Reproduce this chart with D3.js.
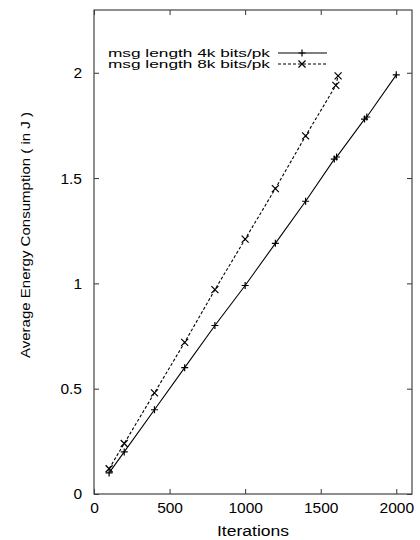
<!DOCTYPE html>
<html>
<head>
<meta charset="utf-8">
<script src="https://cdn.jsdelivr.net/npm/d3@7"></script>
<style>
  body { margin: 0; background: #fff; }
  text { font-family: "Liberation Sans", Arial, sans-serif; fill: #000; }
</style>
</head>
<body>
<svg id="chart" width="420" height="540"></svg>
<script>
// data
let iter4k = [100, 200, 400, 600, 800, 1000, 1200, 1400, 1590, 1605, 1790, 1805, 2000]
let energy4k = [0.10, 0.20, 0.40, 0.60, 0.80, 0.99, 1.19, 1.39, 1.59, 1.60, 1.78, 1.79, 1.99]
let iter8k = [100, 200, 400, 600, 800, 1000, 1200, 1400, 1600, 1615]
let energy8k = [0.12, 0.24, 0.48, 0.72, 0.97, 1.21, 1.45, 1.70, 1.94, 1.985]
let xTicks = [0, 500, 1000, 1500, 2000]
let yTicks = [0, 0.5, 1, 1.5, 2]
let legendLabels = ['msg length 4k bits/pk', 'msg length 8k bits/pk']

let padLeft = 94, padRight = 412, padTop = 10, padBottom = 494
let svg = d3.select('#chart')

let x = d3.scaleLinear().domain([0, 2104]).range([padLeft, padRight])
let y = d3.scaleLinear().domain([0, 2.298]).range([padBottom, padTop])

let fmt = d => d === 0 ? '0' : String(d)

// axes with inward ticks, mirrored on the opposite side
svg.append('g').attr('transform', 'translate(0,' + padBottom + ')')
  .call(d3.axisBottom(x).tickValues(xTicks).tickSizeInner(-5).tickSizeOuter(0).tickPadding(8).tickFormat(fmt))
svg.append('g').attr('transform', 'translate(0,' + padTop + ')')
  .call(d3.axisTop(x).tickValues(xTicks).tickSizeInner(-5).tickSizeOuter(0).tickFormat(''))
svg.append('g').attr('transform', 'translate(' + padLeft + ',0)')
  .call(d3.axisLeft(y).tickValues(yTicks).tickSizeInner(-5).tickSizeOuter(0).tickPadding(12).tickFormat(fmt))
svg.append('g').attr('transform', 'translate(' + padRight + ',0)')
  .call(d3.axisRight(y).tickValues(yTicks).tickSizeInner(-5).tickSizeOuter(0).tickFormat(''))

svg.selectAll('.domain').remove()
svg.selectAll('.tick line').attr('stroke', '#333')
svg.selectAll('.tick text').style('font-size', '15.5px').attr('fill', '#000')

svg.append('rect')
  .attr('x', padLeft).attr('y', padTop)
  .attr('width', padRight - padLeft).attr('height', padBottom - padTop)
  .attr('fill', 'none').attr('stroke', '#444').attr('stroke-width', 1.2)

svg.append('text').attr('x', 253).attr('y', 536)
  .attr('text-anchor', 'middle').style('font-size', '14px')
  .attr('textLength', 72).attr('lengthAdjust', 'spacingAndGlyphs').text('Iterations')
svg.append('text').attr('transform', 'translate(30,235) rotate(-90)')
  .attr('text-anchor', 'middle').style('font-size', '13.5px')
  .attr('textLength', 246).attr('lengthAdjust', 'spacingAndGlyphs').text('Average Energy Consumption ( in J )')

let s4 = iter4k.map((d, i) => [d, energy4k[i]])
let s8 = iter8k.map((d, i) => [d, energy8k[i]])
let line = d3.line().x(d => x(d[0])).y(d => y(d[1]))

svg.append('path').datum(s4).attr('d', line)
  .attr('fill', 'none').attr('stroke', '#000').attr('stroke-width', 1.1)
svg.append('path').datum(s8).attr('d', line)
  .attr('fill', 'none').attr('stroke', '#000').attr('stroke-width', 1.1).attr('stroke-dasharray', '3,2')

let plus = (g, cx, cy) => {
  g.append('path').attr('d', 'M' + (cx - 3.5) + ',' + cy + 'H' + (cx + 3.5) + 'M' + cx + ',' + (cy - 3.5) + 'V' + (cy + 3.5))
    .attr('stroke', '#000').attr('stroke-width', 1.2)
}
let cross = (g, cx, cy) => {
  g.append('path').attr('d', 'M' + (cx - 3.5) + ',' + (cy - 3.5) + 'L' + (cx + 3.5) + ',' + (cy + 3.5) + 'M' + (cx - 3.5) + ',' + (cy + 3.5) + 'L' + (cx + 3.5) + ',' + (cy - 3.5))
    .attr('stroke', '#000').attr('stroke-width', 1.2)
}

let marks = svg.append('g')
s4.forEach(d => plus(marks, x(d[0]), y(d[1])))
s8.forEach(d => cross(marks, x(d[0]), y(d[1])))

// legend
let legBase = [57.3, 68.3]
legendLabels.forEach((lab, i) => {
  let ly = legBase[i] - 4.3
  svg.append('text').attr('x', 108).attr('y', legBase[i])
    .style('font-size', '11.5px')
    .attr('textLength', 162).attr('lengthAdjust', 'spacingAndGlyphs').text(lab)
  svg.append('line').attr('x1', 278).attr('x2', 327).attr('y1', ly).attr('y2', ly)
    .attr('stroke', '#000').attr('stroke-width', 1.1).attr('stroke-dasharray', i ? '3,2' : null)
  if (i === 0) plus(svg, 302, ly)
  else cross(svg, 302, ly)
})
</script>
</body>
</html>
